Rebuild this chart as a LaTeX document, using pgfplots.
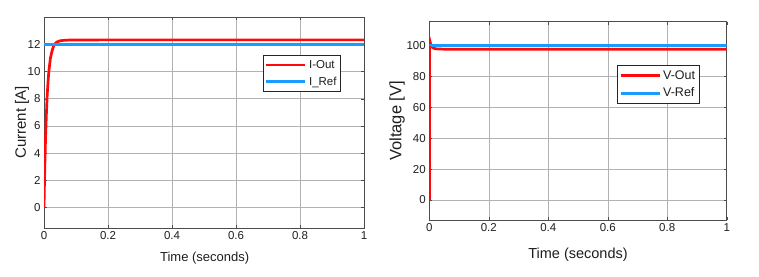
\documentclass[border=0pt]{standalone}
\usepackage{pgfplots}
\pgfplotsset{compat=1.18}
\usepackage{fontspec}
\setmainfont{Liberation Sans}
\definecolor{mred}{RGB}{255,10,10}
\definecolor{mblue}{RGB}{25,155,255}
\definecolor{txtgray}{RGB}{30,30,30}
\pgfplotsset{
  mstyle/.style={
    scale only axis,
    anchor=south west,
    xmin=0, xmax=1,
    xtick={0,0.2,0.4,0.6,0.8,1},
    xticklabels={0,0.2,0.4,0.6,0.8,1},
    grid=major,
    major grid style={gray!60, line width=0.5pt},
    axis line style={black!70, line width=0.6pt},
    tick style={black!70},
    major tick length=3pt,
    tick align=inside,
    ticklabel style={font=\fontsize{11.5}{13}\selectfont, text=txtgray},
    /pgf/number format/assume math mode=true,
    legend cell align=left,
    legend image code/.code={\draw[#1] (0pt,0pt) -- (39pt,0pt);},
    legend style={draw=black!85, line width=0.6pt, fill=white,
      font=\fontsize{11.5}{13}\selectfont, text=txtgray,
      inner xsep=2pt, inner ysep=3pt, row sep=3pt},
  }
}
\begin{document}
\begin{tikzpicture}
\useasboundingbox (0,0) rectangle (759pt,276pt);
\begin{axis}[mstyle,
  at={(44pt,48pt)}, width=320pt, height=211pt,
  ymin=-1.5, ymax=14,
  ytick={0,2,4,6,8,10,12},
  yticklabels={0,2,4,6,8,10,12},
  xlabel={Time (seconds)},
  ylabel={Current [A]},
  xlabel style={font=\fontsize{13}{15}\selectfont, text=txtgray, at={(axis description cs:0.502,-0.142)}, anchor=center},
  ylabel style={font=\fontsize{15}{17}\selectfont, text=txtgray, at={(axis description cs:-0.069,0.5)}, anchor=center},
  legend style={at={(rel axis cs:0.683,0.82)}, anchor=north west},
]
\addplot[mred, line width=2.7pt] coordinates {
(0,0) (0.001,1.3) (0.002,2.44) (0.003,3.5) (0.005,5.24) (0.0075,6.9) (0.01,8.25) (0.0125,9.2) (0.015,9.98) (0.02,10.97) (0.025,11.5) (0.03,11.86) (0.035,12.05) (0.04,12.16) (0.05,12.25) (0.06,12.28) (0.08,12.31) (0.2,12.32) (0.5,12.32) (1,12.32)
};
\addlegendentry{I-Out}
\addplot[mblue, line width=3.2pt] coordinates {
(0,12) (1,12)
};
\addlegendentry{I\_Ref}
\end{axis}
\begin{axis}[mstyle,
  at={(429.3pt,56pt)}, width=297.4pt, height=198.3pt,
  ymin=-13, ymax=115.5,
  ytick={0,20,40,60,80,100},
  yticklabels={0,20,40,60,80,100},
  xlabel={Time (seconds)},
  ylabel={Voltage [V]},
  xlabel style={font=\fontsize{14.5}{16}\selectfont, text=txtgray, at={(axis description cs:0.5,-0.176)}, anchor=center},
  ylabel style={font=\fontsize{16.5}{18}\selectfont, text=txtgray, at={(axis description cs:-0.108,0.5)}, anchor=center},
  legend style={at={(rel axis cs:0.63,0.78)}, anchor=north west, font=\fontsize{12.5}{14}\selectfont},
]
\addplot[mred, line width=2.7pt] coordinates {
(0.0015,100) (0.002,103) (0.004,101.5) (0.007,100) (0.01,99) (0.015,98.3) (0.02,98) (0.03,97.8) (0.05,97.7) (0.2,97.7) (0.5,97.7) (1,97.7)
};
\addlegendentry{V-Out}
\addplot[mblue, line width=3.2pt] coordinates {
(0,100) (1,100)
};
\addlegendentry{V-Ref}
\addplot[mred, line width=1.6pt, forget plot] coordinates {
(0.0015,0) (0.0015,100)
};
\end{axis}
\end{tikzpicture}
\end{document}
